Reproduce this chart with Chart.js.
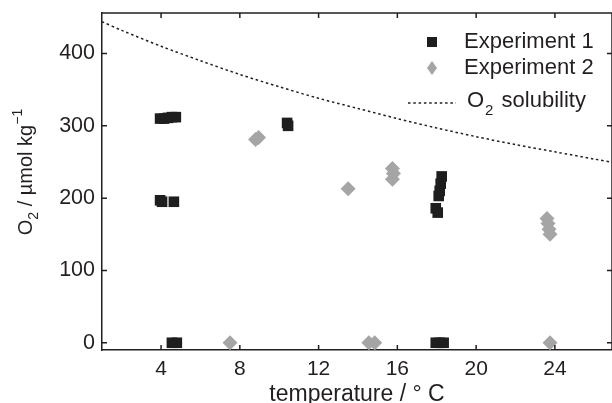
<!DOCTYPE html>
<html>
<head>
<meta charset="utf-8">
<script src="https://cdn.jsdelivr.net/npm/chart.js@4.4.0/dist/chart.umd.min.js"></script>
<style>
  html, body { margin: 0; padding: 0; background: #fff; }
  #wrap { width: 612px; height: 403px; }
</style>
</head>
<body>
<div id="wrap"><canvas id="chart" width="612" height="403"></canvas></div>
<script>
// values
var exp1Temp = [3.95, 4.15, 4.35, 4.55, 4.75, 10.4, 10.45, 3.95, 4.05, 4.65, 4.55, 4.8, 18.25, 18.2, 18.15, 18.1, 17.95, 18.05, 17.95, 18.15, 18.35];
var exp1O2   = [310, 310, 311, 312, 312, 304, 300, 197, 195, 195, 0, 0, 230, 220, 210, 203, 186, 180, 0, 0, 0];

var exp2Temp = [8.8, 8.95, 13.5, 15.75, 15.8, 15.75, 23.6, 23.65, 23.7, 23.75, 7.5, 14.55, 14.85, 23.75];
var exp2O2   = [281, 284, 213, 241, 234, 226, 172, 165, 157, 150, 0, 0, 0, 0];

var solTemp = [1, 2, 4, 6, 8, 10, 12, 14, 16, 18, 20, 22, 24, 26, 27];
var solO2   = [444, 432, 410, 390, 371, 354, 338, 324, 310, 297, 285, 274, 264, 254, 249];

var xTicks = [4, 8, 12, 16, 20, 24];
var yTicks = [0, 100, 200, 300, 400];

var ink = '#231f20';
var grey = '#a5a5a5';
var fontFam = '"Liberation Sans", Arial, sans-serif';

function toPoints(xs, ys) {
  var out = [];
  for (var i = 0; i < xs.length; i++) out.push({x: xs[i], y: ys[i]});
  return out;
}

// draws the box, inward ticks, y title and legend
var decor = {
  id: 'decor',
  afterDraw: function(chart) {
    var ctx = chart.ctx;
    var a = chart.chartArea;
    var xs = chart.scales.x, ys = chart.scales.y;
    ctx.save();
    ctx.strokeStyle = ink;
    ctx.lineWidth = 1.5;
    ctx.beginPath();
    ctx.moveTo(a.left, a.top); ctx.lineTo(a.right, a.top);
    ctx.moveTo(a.right, a.top); ctx.lineTo(a.right, a.bottom);
    var tl = 5;
    xTicks.forEach(function(v) {
      var px = xs.getPixelForValue(v);
      ctx.moveTo(px, a.bottom); ctx.lineTo(px, a.bottom - tl);
      ctx.moveTo(px, a.top); ctx.lineTo(px, a.top + tl);
    });
    yTicks.forEach(function(v) {
      var py = ys.getPixelForValue(v);
      ctx.moveTo(a.left, py); ctx.lineTo(a.left + tl, py);
      ctx.moveTo(a.right, py); ctx.lineTo(a.right - tl, py);
    });
    ctx.stroke();

    // y axis title with sub/superscript
    var parts = [['O', 0], ['2', 1], [' / \u00b5mol kg', 0], ['\u22121', -1]];
    var big = '20px ' + fontFam, small = '14px ' + fontFam;
    ctx.fillStyle = ink;
    ctx.textBaseline = 'middle';
    ctx.textAlign = 'left';
    var total = 0;
    parts.forEach(function(p) { ctx.font = p[1] ? small : big; total += ctx.measureText(p[0]).width; });
    ctx.translate(26, 172);
    ctx.rotate(-Math.PI / 2);
    var cx = -total / 2;
    parts.forEach(function(p) {
      ctx.font = p[1] ? small : big;
      ctx.fillText(p[0], cx, p[1] * 8);
      cx += ctx.measureText(p[0]).width;
    });
    ctx.setTransform(1, 0, 0, 1, 0, 0);

    // legend
    var ds = chart.data.datasets;
    var lbig = '22px ' + fontFam, lsmall = '15px ' + fontFam;
    ctx.font = lbig;
    ctx.fillStyle = ds[0].backgroundColor;
    ctx.fillRect(427, 37, 10, 10);
    ctx.fillStyle = ds[1].backgroundColor;
    ctx.beginPath();
    ctx.moveTo(432, 61); ctx.lineTo(437, 68); ctx.lineTo(432, 75); ctx.lineTo(427, 68);
    ctx.closePath(); ctx.fill();
    ctx.strokeStyle = ds[2].borderColor;
    ctx.lineWidth = ds[2].borderWidth;
    ctx.setLineDash(ds[2].borderDash);
    ctx.beginPath(); ctx.moveTo(408, 103); ctx.lineTo(456, 103); ctx.stroke();
    ctx.setLineDash([]);
    ctx.fillStyle = ink;
    ctx.fillText(ds[0].label, 464, 42);
    ctx.fillText(ds[1].label, 464, 68);
    ctx.fillText('O', 467, 101);
    var ow = ctx.measureText('O').width;
    ctx.font = lsmall;
    ctx.fillText('2', 468 + ow, 111);
    var tw = ctx.measureText('2').width;
    ctx.font = lbig;
    ctx.fillText(' solubility', 470 + ow + tw, 101);
    ctx.restore();
  }
};

new Chart(document.getElementById('chart'), {
  type: 'scatter',
  data: {
    datasets: [
      {
        label: 'Experiment 1',
        data: toPoints(exp1Temp, exp1O2),
        pointStyle: 'rect',
        pointRadius: 7.5,
        backgroundColor: '#1e1e1e',
        borderWidth: 0
      },
      {
        label: 'Experiment 2',
        data: toPoints(exp2Temp, exp2O2),
        pointStyle: 'rectRot',
        pointRadius: 7.5,
        backgroundColor: grey,
        borderWidth: 0
      },
      {
        label: 'O2 solubility',
        data: toPoints(solTemp, solO2),
        showLine: true,
        pointRadius: 0,
        borderColor: ink,
        borderWidth: 1.5,
        borderDash: [2.5, 2.8],
        tension: 0.3,
        fill: false
      }
    ]
  },
  options: {
    responsive: false,
    animation: false,
    devicePixelRatio: 1,
    layout: { autoPadding: false, padding: { top: 13, right: 0, left: 0, bottom: 0 } },
    plugins: { legend: { display: false }, tooltip: { enabled: false } },
    scales: {
      x: {
        type: 'linear',
        min: 1,
        max: 26.9,
        afterBuildTicks: function(s) { s.ticks = xTicks.map(function(v) { return {value: v}; }); },
        afterFit: function(s) { s.height = 53; s.paddingLeft = 0; s.paddingRight = 0; },
        ticks: { color: ink, font: { family: fontFam, size: 21 }, padding: 7, maxRotation: 0 },
        grid: { drawOnChartArea: false, drawTicks: false },
        border: { color: ink, width: 1.5 },
        title: { display: true, text: 'temperature / \u00b0 C', color: ink, font: { family: fontFam, size: 23 }, padding: { top: 0, bottom: -5 } }
      },
      y: {
        type: 'linear',
        min: -10,
        max: 456,
        afterBuildTicks: function(s) { s.ticks = yTicks.map(function(v) { return {value: v}; }); },
        afterFit: function(s) { s.width = 102; s.paddingTop = 0; s.paddingBottom = 0; },
        ticks: { color: ink, font: { family: fontFam, size: 21.5 }, padding: 7 },
        grid: { drawOnChartArea: false, drawTicks: false },
        border: { color: ink, width: 1.5 }
      }
    }
  },
  plugins: [decor]
});
</script>
</body>
</html>
